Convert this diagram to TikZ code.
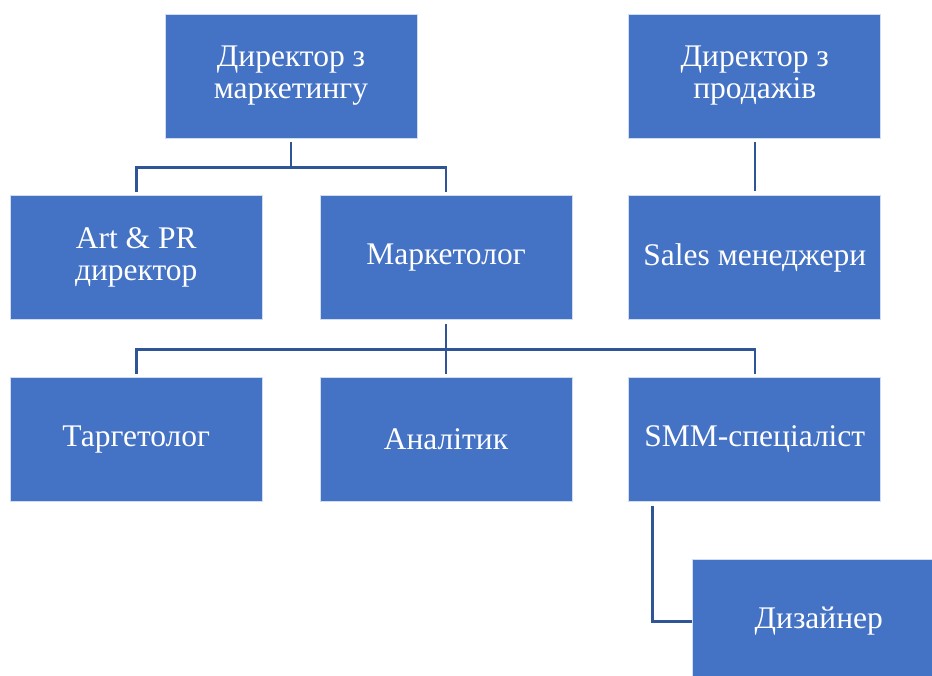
\documentclass[tikz,border=0pt]{standalone}
\usepackage{fontspec}
\setmainfont{Liberation Serif}
\usepackage{xcolor}
\usetikzlibrary{positioning}
\definecolor{boxblue}{HTML}{4472C4}
\definecolor{lineblue}{HTML}{2F5597}
\tikzset{every node/.style={font=\fontsize{31.5}{32}\selectfont},
 unit/.style={draw=white!75!boxblue,line width=0.8pt,fill=boxblue,text=white,
  minimum width=252pt,minimum height=124pt,inner sep=0pt,align=center},
 conn/.style={draw=lineblue,line width=2.6pt},
 node distance=57pt and 57pt,
 }

\begin{document}
\begin{tikzpicture}
        \useasboundingbox (0pt,0pt) rectangle (932pt,-675pt);
        \begin{scope}
        \clip (0pt,0pt) rectangle (932pt,-675pt);
        % top row
        \node[unit] (dm) at (291pt,-76pt) {Директор з\\маркетингу};
        \node[unit,right=211pt of dm] (ds) {Директор з\\продажів};
        % second row
        \node[unit,below=57pt of dm.south west,anchor=north east,xshift=98pt] (art) {Art \& PR\\директор};
        \node[unit,right=of art] (mk) {Маркетолог};
        \node[unit,below=of ds] (sales) {Sales менеджери};
        % third row
        \node[unit,below=of art] (targ) {Таргетолог};
        \node[unit,below=of mk] (anal) {Аналітик};
        \node[unit,below=of sales] (smm) {SMM-спеціаліст};
        \node[unit,below=57pt of smm.south west,anchor=north west,xshift=64pt] (des) {Дизайнер};
        \end{scope}
        % connectors
        \draw[conn] ([yshift=-4pt]dm.south) -- ++(0,-25pt) -| ([yshift=3pt]art.north);
        \draw[conn] ([yshift=-4pt]dm.south) -- ++(0,-25pt) -| ([yshift=3pt]mk.north);
        \draw[conn] ([yshift=-4pt]ds.south) -- ([yshift=4pt]sales.north);
        \draw[conn] ([yshift=-4pt]mk.south) -- ++(0,-25pt) -| ([yshift=3pt]targ.north);
        \draw[conn] ([yshift=-4pt]mk.south) -- ([yshift=3pt]anal.north);
        \draw[conn] ([yshift=-4pt]mk.south) -- ++(0,-25pt) -| ([yshift=3pt]smm.north);
        \draw[conn] ([xshift=24pt,yshift=-4pt]smm.south west) |- (des.west);
    \end{tikzpicture}
\end{document}
